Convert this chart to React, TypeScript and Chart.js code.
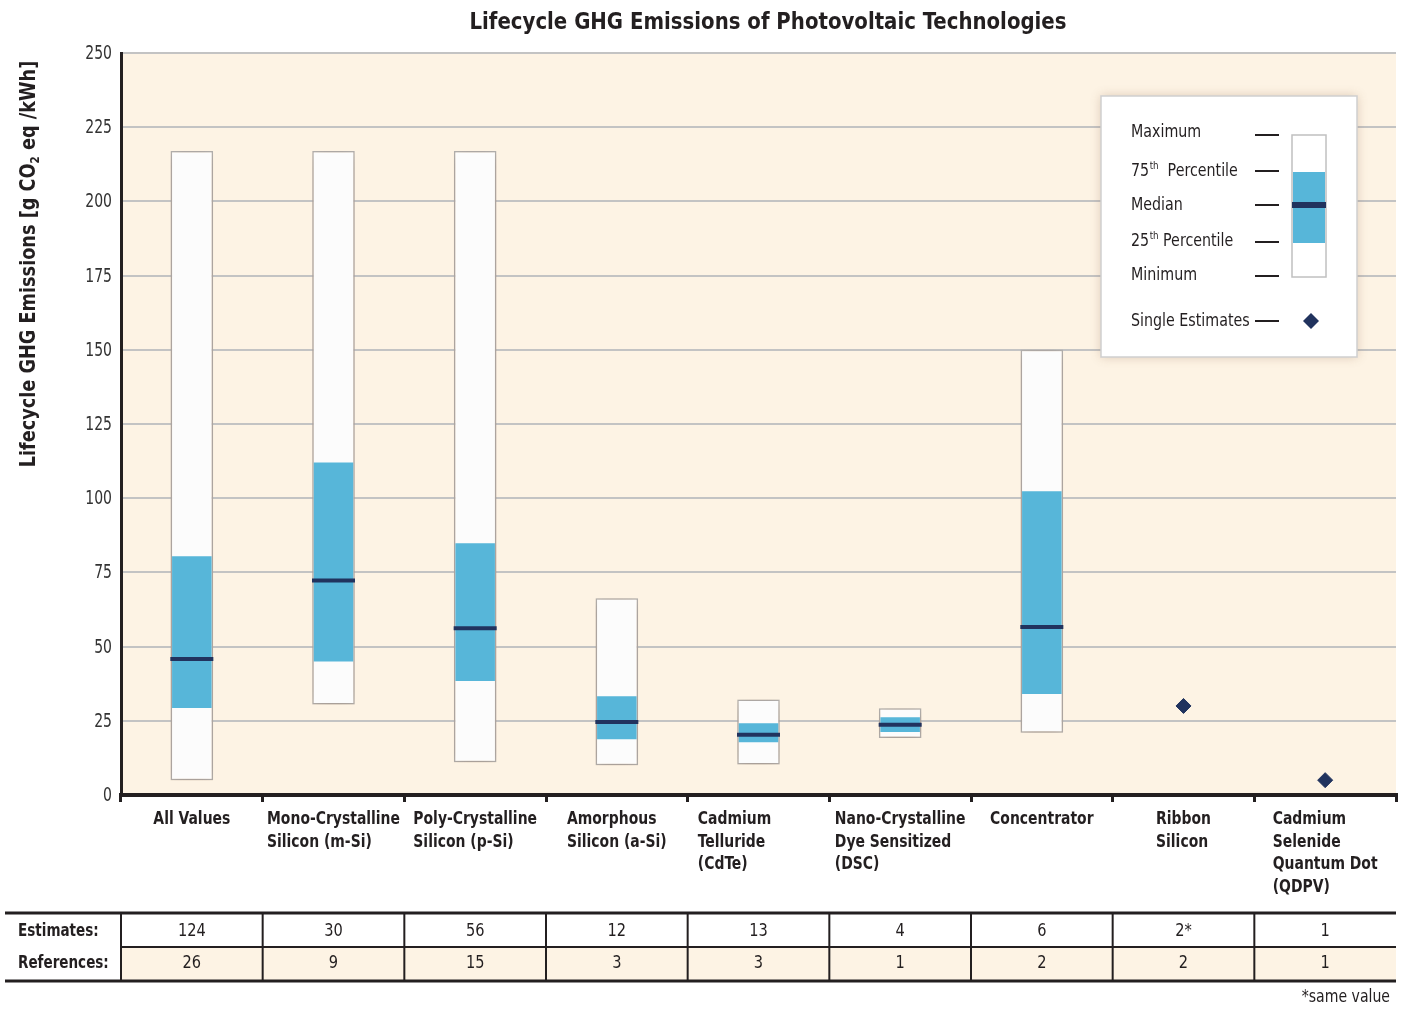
import React, { useEffect, useRef } from "react";
import { Chart, registerables } from "chart.js";
Chart.register(...registerables);

const categories: string[][] = [
  ["All Values"],
  ["Mono-Crystalline", "Silicon (m-Si)"],
  ["Poly-Crystalline", "Silicon (p-Si)"],
  ["Amorphous", "Silicon (a-Si)"],
  ["Cadmium", "Telluride", "(CdTe)"],
  ["Nano-Crystalline", "Dye Sensitized", "(DSC)"],
  ["Concentrator"],
  ["Ribbon", "Silicon"],
  ["Cadmium", "Selenide", "Quantum Dot", "(QDPV)"],
];
const minimum: (number | null)[] = [5, 30.5, 11, 10, 10.3, 19.2, 21, null, null];
const percentile25: (number | null)[] = [29.3, 45, 38.4, 18.8, 17.8, 21.2, 34, null, null];
const medianValues: (number | null)[] = [45.8, 72.3, 56.2, 24.6, 20.3, 23.7, 56.6, null, null];
const percentile75: (number | null)[] = [80.4, 112, 84.8, 33.3, 24.2, 26.2, 102.3, null, null];
const maximum: (number | null)[] = [217, 217, 217, 66.3, 32.2, 29.2, 150, null, null];
const singleEstimates: (number | null)[] = [null, null, null, null, null, null, null, 30, 5];
const estimatesCount: string[] = ["124", "30", "56", "12", "13", "4", "6", "2*", "1"];
const referencesCount: string[] = ["26", "9", "15", "3", "3", "1", "2", "2", "1"];
const yMin = 0;
const yMax = 250;
const yStep = 25;

// layout tweak: horizontal nudge of individual category label blocks (px)
const labelNudge = [0, 0, 0, 0, -24, 0, 0, 0, 0];

const FONT = '"DejaVu Sans Condensed", "Liberation Sans Narrow", "Open Sans", sans-serif';
const CREAM = "#fdf3e4";
const BLUE = "#57b6d9";
const NAVY = "#21335e";
const BORDER = "#b3b3b3";
const TEXT = "#231f20";

function txt(ctx: CanvasRenderingContext2D, s: string, x: number, y: number, font: string, sx: number, align: CanvasTextAlign = "left", baseline: CanvasTextBaseline = "middle") {
  ctx.save();
  ctx.font = font;
  ctx.translate(x, y);
  ctx.scale(sx, 1);
  ctx.textAlign = align;
  ctx.textBaseline = baseline;
  ctx.fillText(s, 0, 0);
  ctx.restore();
}
function mw(ctx: CanvasRenderingContext2D, s: string, font: string, sx: number) {
  ctx.save();
  ctx.font = font;
  const w = ctx.measureText(s).width * sx;
  ctx.restore();
  return w;
}

const customPlugin = {
  id: "customDraw",
  beforeDraw(chart: any) {
    const { ctx, chartArea } = chart;
    ctx.save();
    ctx.fillStyle = "#ffffff";
    ctx.fillRect(0, 0, chart.width, chart.height);
    ctx.fillStyle = CREAM;
    ctx.fillRect(chartArea.left, chartArea.top, chartArea.right - chartArea.left, chartArea.bottom - chartArea.top);
    ctx.restore();
  },
  beforeDatasetDraw(chart: any, args: any) {
    if (args.index === 0) {
      const ctx = chart.ctx;
      ctx.save();
      ctx.shadowColor = "rgba(140,100,70,0.4)";
      ctx.shadowBlur = 14;
      ctx.shadowOffsetX = 0;
      ctx.shadowOffsetY = 2;
    }
  },
  afterDatasetDraw(chart: any, args: any) {
    if (args.index === 0) chart.ctx.restore();
  },
  afterDraw(chart: any) {
    const { ctx } = chart;
    const xs = chart.scales.x;
    const ys = chart.scales.y;
    const n = categories.length;
    const catW = xs.width / n;
    ctx.save();
    ctx.fillStyle = TEXT;

    // Title
    const ft = `bold 23px ${FONT}`;
    const title = "Lifecycle GHG Emissions of Photovoltaic Technologies";
    const st = 597 / mw(ctx, title, ft, 1);
    txt(ctx, title, 768, 29, ft, st, "center", "alphabetic");

    // Y tick labels
    ctx.fillStyle = "#333333";
    ys.ticks.forEach((t: any) => {
      txt(ctx, String(t.value), 112, ys.getPixelForValue(t.value) + 1, `19px ${FONT}`, 0.82, "right");
    });
    ctx.fillStyle = TEXT;

    // Y axis title
    ctx.save();
    ctx.translate(27, 264);
    ctx.rotate(-Math.PI / 2);
    const SY = 0.894;
    const f1 = `bold 22px ${FONT}`;
    const f2 = `bold 13px ${FONT}`;
    const p1 = "Lifecycle GHG Emissions [g CO";
    const p2 = "2";
    const p3 = " eq /kWh]";
    const w1 = mw(ctx, p1, f1, SY);
    const w2 = mw(ctx, p2, f2, SY);
    const w3 = mw(ctx, p3, f1, SY);
    let sx = -(w1 + w2 + w3) / 2;
    txt(ctx, p1, sx, 8, f1, SY, "left", "alphabetic");
    sx += w1;
    txt(ctx, p2, sx, 12, f2, SY, "left", "alphabetic");
    sx += w2;
    txt(ctx, p3, sx, 8, f1, SY, "left", "alphabetic");
    ctx.restore();

    // Category labels
    const fc = `bold 17.5px ${FONT}`;
    const SC = 133 / mw(ctx, "Mono-Crystalline", fc, 1);
    categories.forEach((lines, i) => {
      const cx = xs.getPixelForValue(i) + labelNudge[i];
      const m = Math.max(...lines.map((l) => mw(ctx, l, fc, SC)));
      lines.forEach((l, j) => txt(ctx, l, cx - m / 2, 824 + j * 22.7, fc, SC, "left", "alphabetic"));
    });

    // Table
    const tTop = 913, tMid = 947, tBot = 981;
    ctx.fillStyle = CREAM;
    ctx.fillRect(xs.left, tMid, xs.right - xs.left, tBot - tMid);
    ctx.strokeStyle = TEXT;
    ctx.lineWidth = 3;
    ctx.beginPath();
    ctx.moveTo(5, tTop); ctx.lineTo(xs.right, tTop);
    ctx.moveTo(5, tBot); ctx.lineTo(xs.right, tBot);
    ctx.stroke();
    ctx.lineWidth = 2;
    ctx.beginPath();
    ctx.moveTo(xs.left, tMid); ctx.lineTo(xs.right, tMid);
    for (let i = 0; i < n; i++) {
      const bx = xs.getPixelForValue(i) - catW / 2;
      ctx.moveTo(bx, tTop); ctx.lineTo(bx, tBot);
    }
    ctx.stroke();
    ctx.fillStyle = TEXT;
    txt(ctx, "Estimates:", 18, 931, `bold 18px ${FONT}`, 0.835);
    txt(ctx, "References:", 18, 963, `bold 18px ${FONT}`, 0.835);
    for (let i = 0; i < n; i++) {
      const cx = xs.getPixelForValue(i);
      txt(ctx, estimatesCount[i], cx, 931, `18px ${FONT}`, 0.9, "center");
      txt(ctx, referencesCount[i], cx, 963, `18px ${FONT}`, 0.9, "center");
    }
    txt(ctx, "*same value", 1390, 998, `17px ${FONT}`, 0.92, "right");

    // Legend
    const lx = 1101, ly = 96, lw = 256, lh = 261;
    ctx.save();
    ctx.shadowColor = "rgba(140,100,70,0.3)";
    ctx.shadowBlur = 10;
    ctx.fillStyle = "#ffffff";
    ctx.fillRect(lx, ly, lw, lh);
    ctx.restore();
    ctx.strokeStyle = "#cfcfcf";
    ctx.lineWidth = 1.5;
    ctx.strokeRect(lx, ly, lw, lh);
    ctx.fillStyle = TEXT;
    const fl = `18px ${FONT}`;
    const fs = `11px ${FONT}`;
    const SL = 0.88;
    const drawSup = (base: string, sup: string, rest: string, x: number, y: number) => {
      txt(ctx, base, x, y, fl, SL);
      let xx = x + mw(ctx, base, fl, SL);
      txt(ctx, sup, xx + 0.5, y - 5, fs, SL);
      xx += mw(ctx, sup, fs, SL) + 0.5;
      txt(ctx, rest, xx, y, fl, SL);
    };
    txt(ctx, "Maximum", 1131, 132, fl, SL);
    drawSup("75", "th", "  Percentile", 1131, 171);
    txt(ctx, "Median", 1131, 205, fl, SL);
    drawSup("25", "th", " Percentile", 1131, 241);
    txt(ctx, "Minimum", 1131, 275, fl, SL);
    txt(ctx, "Single Estimates", 1131, 321, fl, SL);
    ctx.strokeStyle = TEXT;
    ctx.lineWidth = 2;
    ctx.beginPath();
    [135, 171, 205, 242, 276, 321].forEach((y) => {
      ctx.moveTo(1255, y); ctx.lineTo(1279, y);
    });
    ctx.stroke();
    ctx.fillStyle = "#ffffff";
    ctx.fillRect(1292, 135, 34, 142);
    ctx.strokeStyle = "#c0c0c0";
    ctx.lineWidth = 1.5;
    ctx.strokeRect(1292, 135, 34, 142);
    ctx.fillStyle = BLUE;
    ctx.fillRect(1293, 172, 32, 71);
    ctx.fillStyle = NAVY;
    ctx.fillRect(1292, 202, 34, 6);
    ctx.beginPath();
    ctx.moveTo(1311, 313); ctx.lineTo(1319, 321); ctx.lineTo(1311, 329); ctx.lineTo(1303, 321);
    ctx.closePath();
    ctx.fill();
    ctx.restore();
  },
};

export default function App() {
  const ref = useRef<HTMLCanvasElement | null>(null);
  useEffect(() => {
    if (!ref.current) return;
    const labels = categories.map((c) => c.join(" "));
    const chart = new Chart(ref.current, {
      type: "bar",
      data: {
        labels,
        datasets: [
          {
            type: "bar",
            label: "Range",
            data: minimum.map((m, i) => (m == null || maximum[i] == null ? null : [m, maximum[i] as number])) as any,
            backgroundColor: "#fcfcfc",
            borderColor: BORDER,
            borderWidth: 1.5,
            borderSkipped: false,
            barPercentage: 0.3,
            categoryPercentage: 1,
            grouped: false,
            order: 4,
          } as any,
          {
            type: "bar",
            label: "IQR",
            data: percentile25.map((m, i) => (m == null || percentile75[i] == null ? null : [m, percentile75[i] as number])) as any,
            backgroundColor: BLUE,
            borderWidth: 0,
            barPercentage: 0.279,
            categoryPercentage: 1,
            grouped: false,
            order: 3,
          } as any,
          {
            type: "line",
            label: "Median",
            data: medianValues as any,
            showLine: false,
            pointStyle: "line",
            pointRadius: 21.5,
            pointHoverRadius: 21.5,
            pointBorderWidth: 4,
            pointBorderColor: NAVY,
            pointBackgroundColor: NAVY,
            order: 2,
          } as any,
          {
            type: "line",
            label: "Single Estimates",
            data: singleEstimates as any,
            showLine: false,
            pointStyle: "rectRot",
            pointRadius: 7.5,
            pointBorderWidth: 1,
            pointBorderColor: NAVY,
            pointBackgroundColor: NAVY,
            order: 1,
          } as any,
        ],
      },
      options: {
        responsive: false,
        animation: false,
        events: [],
        layout: { autoPadding: false, padding: { top: 53, right: 7, left: 0, bottom: 0 } },
        plugins: { legend: { display: false }, tooltip: { enabled: false }, title: { display: false } },
        scales: {
          x: {
            offset: true,
            ticks: { display: false },
            grid: {
              display: true,
              offset: true,
              drawOnChartArea: false,
              drawTicks: true,
              tickLength: 7,
              color: TEXT,
              lineWidth: 3,
            },
            border: { display: true, color: TEXT, width: 4 },
            afterFit: (s: any) => {
              s.height = 214;
            },
          },
          y: {
            min: yMin,
            max: yMax,
            ticks: { stepSize: yStep, display: false },
            grid: { color: "#c3c3c3", lineWidth: 2, drawTicks: false },
            border: { display: true, color: TEXT, width: 3 },
            afterFit: (s: any) => {
              s.width = 121;
            },
          },
        },
      } as any,
      plugins: [customPlugin],
    });
    return () => chart.destroy();
  }, []);
  return (
    <div style={{ position: "absolute", left: 0, top: 0, width: 1403, height: 1009, background: "#fff" }}>
      <canvas ref={ref} width={1403} height={1009} style={{ display: "block" }} />
    </div>
  );
}
